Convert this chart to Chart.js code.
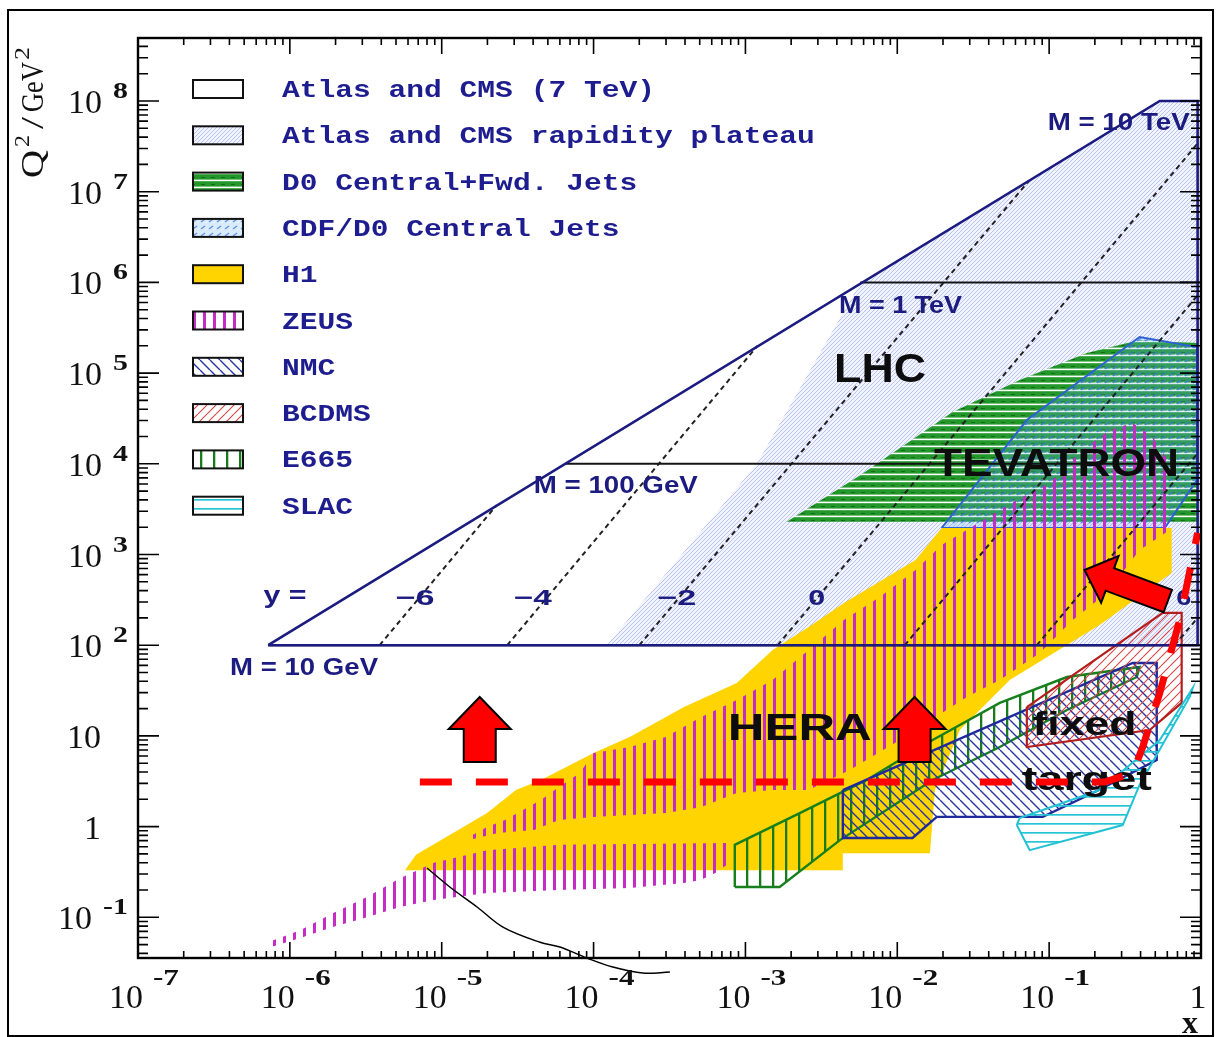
<!DOCTYPE html>
<html>
<head>
<meta charset="utf-8">
<title>Q2 - x kinematic plane</title>
<script src="https://cdn.jsdelivr.net/npm/chart.js@4.4.1/dist/chart.umd.min.js"></script>
<style>
  html, body { margin: 0; padding: 0; background: #ffffff; }
  canvas { display: block; }
</style>
</head>
<body>
<canvas id="kinPlane" width="1216" height="1037"></canvas>
<script>
// axis decades, labels are 10^n
const xDecades = [-7, -6, -5, -4, -3, -2, -1, 0];
const q2Decades = [-1, 0, 1, 2, 3, 4, 5, 6, 7, 8];

// region outlines as [x, Q2 (GeV^2)] corners
const lhcRange = [[7.2e-7, 100], [0.535, 1e8], [0.95, 1e8], [0.95, 100]];
const lhcPlateau = [[1.22e-4, 100], [1.19e-3, 1e4], [5.7e-3, 1e6], [0.535, 1e8], [0.95, 1e8], [0.95, 100]];
const d0Jets = [[1.87e-3, 2.3e3], [5.7e-3, 7.5e3], [2.3e-2, 3.7e4], [6.4e-2, 8.4e4], [0.177, 1.67e5],
  [0.394, 2.32e5], [0.95, 2.15e5], [0.95, 2.3e3]];
const cdfJets = [[1.96e-2, 1.96e3], [7.13e-2, 3.04e4], [0.394, 2.5e5], [0.94, 1.94e5], [0.94, 6.6e3], [0.577, 1.96e3]];
const h1 = [[5.73e-6, 0.33], [6.77e-6, 0.49], [1.99e-5, 1.41], [3.08e-5, 2.53], [4.5e-5, 3.27], [1.0e-4, 6.47],
  [1.73e-4, 9.7], [3.94e-4, 20.8], [8.77e-4, 38.3], [1.51e-3, 88.5], [2.61e-3, 159], [4.45e-3, 292],
  [1.32e-2, 869], [1.96e-2, 1.96e3], [0.641, 1.96e3], [0.641, 625], [0.215, 167], [5.5e-2, 41.3],
  [2.58e-2, 11.6], [1.77e-2, 2.53], [1.64e-2, 0.51], [4.38e-3, 0.51], [4.38e-3, 0.33]];
const zeusLow = [[7.18e-7, 0.053], [1.17e-6, 0.072], [1.92e-6, 0.111], [3.22e-6, 0.168], [5.31e-6, 0.27],
  [8.89e-6, 0.40], [1.99e-5, 0.55], [5.92e-5, 0.63], [7.88e-4, 0.66], [7.88e-4, 0.40], [6.38e-4, 0.31],
  [5.08e-4, 0.258], [3.94e-4, 0.239], [1.73e-4, 0.21], [5.92e-5, 0.20], [1.99e-5, 0.185], [8.89e-6, 0.155],
  [5.31e-6, 0.13], [3.22e-6, 0.10], [1.92e-6, 0.078], [1.17e-6, 0.059], [7.18e-7, 0.046]];
const zeusHigh = [[1.51e-5, 0.77], [1.99e-5, 0.99], [2.61e-5, 1.18], [3.43e-5, 1.52], [4.5e-5, 1.96],
  [5.92e-5, 2.73], [8.13e-5, 3.9], [1.0e-4, 6.47], [1.73e-4, 7.55], [2.99e-4, 9.7], [5.08e-4, 16.1],
  [8.77e-4, 24.9], [1.51e-3, 41.3], [2.61e-3, 88.5], [4.45e-3, 190], [7.67e-3, 340], [1.32e-2, 675],
  [1.96e-2, 1.27e3], [6.12e-2, 3.99e3], [0.101, 6.14e3], [0.166, 1.42e4], [0.251, 2.36e4], [0.355, 2.82e4],
  [0.481, 1.97e4], [0.622, 1.02e4], [0.622, 1.86e3], [0.394, 1.12e3], [0.239, 377], [0.143, 190],
  [8.67e-2, 82], [4.73e-2, 41.3], [2.87e-2, 26.9], [1.04e-2, 9.0], [4.86e-3, 4.21], [2.61e-3, 2.53],
  [1.51e-3, 2.53], [8.77e-4, 2.35], [5.08e-4, 1.64], [2.99e-4, 1.41], [1.0e-4, 1.28], [5.92e-5, 1.18],
  [4.05e-5, 0.92], [2.34e-5, 0.85], [1.51e-5, 0.71]];
const e665 = [[8.51e-4, 0.216], [1.68e-3, 0.216], [4.19e-3, 0.71], [1.71e-2, 3.27], [4.73e-2, 7.55],
  [0.131, 19.3], [0.378, 44.6], [0.394, 57.5], [0.131, 44.6], [4.73e-2, 23.1], [1.71e-2, 9.0],
  [6.29e-3, 3.27], [2.28e-3, 1.41], [8.51e-4, 0.63]];
const nmc = [[4.38e-3, 2.53], [4.38e-3, 0.75], [1.26e-2, 0.75], [1.82e-2, 1.28], [9.08e-2, 1.28],
  [0.194, 2.35], [0.511, 5.42], [0.511, 63.7], [0.355, 63.7]];
const bcdms = [[7.13e-2, 20.8], [7.13e-2, 7.55], [0.459, 11.6], [0.746, 23.1], [0.746, 227], [0.56, 227]];
const slac = [[6.12e-2, 1.04], [7.45e-2, 0.55], [0.305, 1.04], [0.394, 2.88], [0.843, 26.9], [0.882, 33.7],
  [0.535, 9.0], [0.215, 2.53], [6.4e-2, 1.24]];

// lines of constant mass M (Q2 = M^2), from the kinematic edge to x = 1
const massQ2 = [1e2, 1e4, 1e6];
const massFromX = [7.2e-7, 6.5e-5, 5.7e-3];

// lines of constant rapidity y: start on Q2 = 100, end on the kinematic edge
const rapidity = [-6, -4, -2, 0, 2, 4, 6];
const rapidityFrom = [3.9e-6, 2.7e-5, 2.0e-4, 1.63e-3, 1.12e-2, 8.3e-2, 0.67];
const rapidityTo = [[2.3e-5, 3.5e3], [1.2e-3, 2.0e5], [7.3e-2, 1.3e7], [0.95, 3.4e7], [0.95, 7.2e5],
  [0.95, 1.3e4], [0.95, 200]];

// red Q2 / W cut drawn over the plane, and the stray hand-drawn stroke
const q2Cut = [[7.18e-6, 3.1], [0.232, 3.1], [0.355, 3.9], [0.413, 7.55], [0.535, 29.7], [0.724, 190], [0.95, 1.73e3]];
const strayStroke = [[8.0e-6, 0.35], [1.13e-5, 0.216], [1.71e-5, 0.13], [2.53e-5, 0.078], [4.44e-5, 0.053],
  [6.0e-5, 0.047], [9.03e-5, 0.0356], [1.34e-4, 0.0283], [2.11e-4, 0.0243], [3.18e-4, 0.0249]];

// red block arrows: tip and tail as [x, Q2]
const arrows = [
  { tip: [1.78e-5, 26.9], tail: [1.78e-5, 5.15], head: 32, half: 31, shaft: 16 },
  { tip: [1.30e-2, 26.9], tail: [1.30e-2, 5.15], head: 32, half: 31, shaft: 16 },
  { tip: [0.171, 675], tail: [0.604, 307], head: 27, half: 25, shaft: 12 }
];

const legendLabels = ['Atlas and CMS (7 TeV)', 'Atlas and CMS rapidity plateau', 'D0 Central+Fwd. Jets',
  'CDF/D0 Central Jets', 'H1', 'ZEUS', 'NMC', 'BCDMS', 'E665', 'SLAC'];

// big black names and small navy labels, placed at [x, Q2] (baseline)
const bigNames = [
  { text: 'LHC', at: [7.7e-3, 8.0e4], size: 41, width: 92 },
  { text: 'TEVATRON', at: [0.112, 7.4e3], size: 38, width: 245 },
  { text: 'HERA', at: [2.28e-3, 9.0], size: 37, width: 144 },
  { text: 'fixed', at: [0.171, 10.2], size: 34, width: 104 },
  { text: 'target', at: [0.177, 2.55], size: 34, width: 130 }
];
const navyLabels = [
  { text: 'M = 10 GeV', at: [1.24e-6, 47], size: 23, width: 148 },
  { text: 'M = 100 GeV', at: [1.4e-4, 4.8e3], size: 24, width: 164 },
  { text: 'M = 1 TeV', at: [1.05e-2, 4.6e5], size: 24, width: 123 },
  { text: 'M = 10 TeV', at: [0.287, 4.8e7], size: 23, width: 142 },
  { text: 'y =', at: [9.3e-7, 292], size: 23, width: 43 },
  { text: '\u22126', at: [6.67e-6, 277], size: 22, width: 39 },
  { text: '\u22124', at: [3.98e-5, 277], size: 22, width: 38 },
  { text: '\u22122', at: [3.53e-4, 277], size: 22, width: 39 },
  { text: '0', at: [2.95e-3, 277], size: 22, width: 17 },
  { text: '6', at: [0.769, 277], size: 22, width: 15 }
];

const NAVY = '#1b1b80';
const canvas = document.getElementById('kinPlane');
const ctx0 = canvas.getContext('2d');

// small repeating tiles for hatched fills
function tile(w, h, paint) {
  const c = document.createElement('canvas');
  c.width = w; c.height = h;
  paint(c.getContext('2d'), w, h);
  return ctx0.createPattern(c, 'repeat');
}
function diagonal(g, s, color, lw, backward) {
  g.strokeStyle = color; g.lineWidth = lw;
  g.beginPath();
  for (let k = -1; k <= 1; k++) {
    if (backward) { g.moveTo(k * s, 0); g.lineTo(k * s + s, s); }
    else { g.moveTo(k * s, s); g.lineTo(k * s + s, 0); }
  }
  g.stroke();
}

const fills = {
  lhc: '#ffffff',
  // pale lavender ground with one crisp blue pixel per row ("////")
  plateau: tile(4, 4, (g, s) => {
    g.fillStyle = '#f1f3fd'; g.fillRect(0, 0, s, s);
    g.fillStyle = '#b9c2f4';
    for (let i = 0; i < s; i++) g.fillRect(i, s - 1 - i, 1, 1);
  }),
  d0: tile(10, 7, (g, w, h) => {
    g.fillStyle = '#22982b'; g.fillRect(0, 0, w, h);
    g.fillStyle = '#ffffff'; g.fillRect(0, 4.6, w, 1.6);
    g.fillStyle = 'rgba(10,60,10,0.5)'; g.fillRect(1, 2, 4, 1);
  }),
  cdf: tile(8, 7, (g, w, h) => {
    g.fillStyle = 'rgba(100,170,240,0.25)'; g.fillRect(0, 0, w, h);
    g.strokeStyle = 'rgba(60,120,225,0.8)'; g.lineWidth = 1.2;
    g.beginPath(); g.moveTo(1, 5); g.lineTo(5, 2); g.stroke();
    g.strokeStyle = 'rgba(255,255,255,0.6)'; g.lineWidth = 0.8;
    g.beginPath(); g.moveTo(5, 6); g.lineTo(8, 4); g.stroke();
  }),
  h1: '#ffd400',
  zeus: tile(10, 4, (g) => { g.fillStyle = '#c52cc5'; g.fillRect(3, 0, 3, 4); }),
  nmc: tile(10, 10, (g, s) => diagonal(g, s, '#2b36a6', 1.4, true)),
  bcdms: tile(9, 9, (g, s) => diagonal(g, s, '#d64545', 1.1, false)),
  e665: tile(13, 4, (g) => { g.fillStyle = '#177a1c'; g.fillRect(5, 0, 2.3, 4); }),
  slac: tile(4, 9, (g) => { g.fillStyle = '#25c5d6'; g.fillRect(0, 4, 4, 1.7); })
};
const legendFills = ['lhc', 'plateau', 'd0', 'cdf', 'h1', 'zeus', 'nmc', 'bcdms', 'e665', 'slac'];

const xy = (list) => list.map(([x, y]) => ({ x, y }));
const ring = (list) => xy([...list, list[0]]);

function region(label, list, fill, border, width, order) {
  return {
    label, data: ring(list), showLine: true, fill: 'shape',
    backgroundColor: fill, borderColor: border || 'rgba(0,0,0,0)', borderWidth: width || 0, order
  };
}
function path(label, list, color, width, order, extra) {
  return Object.assign({ label, data: xy(list), showLine: true, fill: false, borderColor: color, borderWidth: width, order }, extra || {});
}

const datasets = [
  path('cut', q2Cut, '#ff0000', 7, 0, { borderDash: [32, 24] }),
  path('stroke', strayStroke, '#000000', 1.5, 1, { clip: false, tension: 0.35 }),
  path('lhc', lhcRange.concat([lhcRange[0]]), NAVY, 2.6, 2),
  ...massQ2.map((q2, i) => path('mass', [[massFromX[i], q2], [1, q2]], '#151515', 2, 2)),
  ...rapidity.map((y, i) => path('rapidity', [[rapidityFrom[i], 100], rapidityTo[i]], '#222222', 2, 2, { borderDash: [5, 4] })),
  region('slac', slac, fills.slac, '#22c2d4', 2, 3),
  region('bcdms', bcdms, fills.bcdms, '#b51d1d', 2.2, 4),
  region('nmc', nmc, fills.nmc, '#1e2a9c', 2.4, 5),
  region('e665', e665, fills.e665, '#17801c', 2.4, 6),
  region('zeus', zeusLow, fills.zeus, null, 0, 7),
  region('zeus', zeusHigh, fills.zeus, null, 0, 7),
  region('h1', h1, fills.h1, null, 0, 8),
  region('cdf', cdfJets, fills.cdf, '#2d62d4', 2, 9),
  region('d0', d0Jets, fills.d0, null, 0, 10),
  region('plateau', lhcPlateau, fills.plateau, null, 0, 11)
];

function fitText(ctx, text, x, y, font, width, align) {
  ctx.save();
  ctx.font = font;
  const sx = width ? width / ctx.measureText(text).width : 1;
  ctx.translate(x, y);
  ctx.scale(sx, 1);
  ctx.textAlign = align || 'center';
  ctx.textBaseline = 'alphabetic';
  ctx.fillText(text, 0, 0);
  ctx.restore();
}

function drawNames(chart) {
  const { ctx, scales: { x, y } } = chart;
  ctx.save();
  ctx.fillStyle = NAVY;
  navyLabels.forEach(l => fitText(ctx, l.text, x.getPixelForValue(l.at[0]), y.getPixelForValue(l.at[1]),
    'bold ' + l.size + 'px "Liberation Sans", Arial, sans-serif', l.width));
  ctx.fillStyle = '#0d0d0d';
  bigNames.forEach(l => fitText(ctx, l.text, x.getPixelForValue(l.at[0]), y.getPixelForValue(l.at[1]),
    'bold ' + l.size + 'px "Liberation Sans", Arial, sans-serif', l.width));
  ctx.restore();
}

function drawArrows(chart) {
  const { ctx, scales: { x, y } } = chart;
  arrows.forEach(a => {
    const tx = x.getPixelForValue(a.tip[0]), ty = y.getPixelForValue(a.tip[1]);
    const bx = x.getPixelForValue(a.tail[0]), by = y.getPixelForValue(a.tail[1]);
    const len = Math.hypot(bx - tx, by - ty);
    ctx.save();
    ctx.translate(tx, ty);
    ctx.rotate(Math.atan2(by - ty, bx - tx));
    ctx.beginPath();
    ctx.moveTo(0, 0);
    ctx.lineTo(a.head, -a.half);
    ctx.lineTo(a.head, -a.shaft);
    ctx.lineTo(len, -a.shaft);
    ctx.lineTo(len, a.shaft);
    ctx.lineTo(a.head, a.shaft);
    ctx.lineTo(a.head, a.half);
    ctx.closePath();
    ctx.fillStyle = '#ff0000';
    ctx.fill();
    ctx.lineWidth = 2;
    ctx.strokeStyle = '#000000';
    ctx.stroke();
    ctx.restore();
  });
}

const SERIF = '"Liberation Serif", "Times New Roman", serif';

function drawAxes(chart) {
  const { ctx, chartArea: { left, right, top, bottom }, scales: { x, y } } = chart;
  ctx.save();
  ctx.strokeStyle = '#000000';
  ctx.lineWidth = 2;
  ctx.strokeRect(8, 10, 1205, 1026);
  ctx.lineWidth = 2.4;
  ctx.strokeRect(left, top, right - left, bottom - top);

  // inward ticks on all four sides
  ctx.lineWidth = 1.6;
  ctx.beginPath();
  xDecades.forEach(e => {
    for (let k = 1; k <= 9; k++) {
      const v = k * Math.pow(10, e);
      if (v > x.max * 1.0001) break;
      const px = x.getPixelForValue(v);
      const len = k === 1 ? 16 : 7;
      ctx.moveTo(px, bottom); ctx.lineTo(px, bottom - len);
      ctx.moveTo(px, top); ctx.lineTo(px, top + len);
    }
  });
  for (let e = q2Decades[0] - 1; e <= q2Decades[q2Decades.length - 1]; e++) {
    for (let k = 1; k <= 9; k++) {
      const v = k * Math.pow(10, e);
      if (v < y.min || v > y.max) continue;
      const py = y.getPixelForValue(v);
      const len = k === 1 ? 21 : 10;
      ctx.moveTo(left, py); ctx.lineTo(left + len, py);
      ctx.moveTo(right, py); ctx.lineTo(right - len, py);
    }
  }
  ctx.stroke();

  // tick labels: "10" with a raised exponent
  ctx.fillStyle = '#111111';
  const base = '34px ' + SERIF;
  const sup = 'bold 23px ' + SERIF;
  q2Decades.forEach(e => {
    const py = y.getPixelForValue(Math.pow(10, e));
    if (e === 0 || e === 1) {
      fitText(ctx, e === 0 ? '1' : '10', 101, py + 12, base, 0, 'right');
      return;
    }
    const exp = String(e);
    ctx.font = sup;
    const w = ctx.measureText(exp).width * 1.3;
    fitText(ctx, exp, 128, py - 3, sup, w, 'right');
    fitText(ctx, '10', 128 - w - 11, py + 12, base, 0, 'right');
  });
  xDecades.forEach(e => {
    const px = x.getPixelForValue(Math.pow(10, e));
    if (e === 0) {
      fitText(ctx, '1', px - 3, 1008, base, 0, 'center');
      return;
    }
    const exp = String(e);
    ctx.font = sup;
    const w = ctx.measureText(exp).width * 1.35;
    fitText(ctx, '10', px - 12, 1008, base, 0, 'center');
    fitText(ctx, exp, px + 15, 985, sup, w, 'left');
  });

  // axis titles
  fitText(ctx, 'x', 1190, 1033, 'bold 32px ' + SERIF, 0, 'center');
  ctx.save();
  ctx.translate(43, 178);
  ctx.rotate(-Math.PI / 2);
  fitText(ctx, 'Q', 0, 0, '32px ' + SERIF, 28, 'left');
  fitText(ctx, '2', 31, -14, '21px ' + SERIF, 12, 'left');
  fitText(ctx, '/', 49, 0, '32px ' + SERIF, 12, 'left');
  fitText(ctx, 'GeV', 66, 0, '32px ' + SERIF, 50, 'left');
  fitText(ctx, '2', 118, -14, '21px ' + SERIF, 13, 'left');
  ctx.restore();
  ctx.restore();
}

function drawLegend(chart) {
  const ctx = chart.ctx;
  ctx.save();
  legendLabels.forEach((label, i) => {
    const cy = 89 + i * 46.3;
    ctx.fillStyle = '#ffffff';
    ctx.fillRect(193, cy - 9, 50, 18);
    ctx.fillStyle = fills[legendFills[i]];
    ctx.fillRect(193, cy - 9, 50, 18);
    ctx.lineWidth = 2;
    ctx.strokeStyle = '#111111';
    ctx.strokeRect(193, cy - 9, 50, 18);
    ctx.fillStyle = '#1d1d8f';
    fitText(ctx, label, 282, cy + 8, 'bold 24px "Liberation Mono", "Courier New", monospace', label.length * 17.76, 'left');
  });
  ctx.restore();
}

const overlay = {
  id: 'overlay',
  afterDatasetDraw(chart, args) {
    // names sit under the red cut line but above every region
    if (chart.data.datasets[args.index].label === 'stroke') drawNames(chart);
  },
  afterDraw(chart) {
    drawArrows(chart);
    drawAxes(chart);
    drawLegend(chart);
  }
};

new Chart(canvas, {
  type: 'scatter',
  data: { datasets },
  options: {
    responsive: false,
    animation: false,
    devicePixelRatio: 1,
    events: [],
    layout: { padding: { left: 138, top: 38, right: 15, bottom: 79 } },
    elements: { point: { radius: 0 }, line: { tension: 0 } },
    scales: {
      x: { type: 'logarithmic', min: 1e-7, max: 1, bounds: 'data', display: false },
      y: { type: 'logarithmic', min: 0.0356, max: 4.95e8, bounds: 'data', display: false }
    },
    plugins: { legend: { display: false }, tooltip: { enabled: false } }
  },
  plugins: [overlay]
});
</script>
</body>
</html>
